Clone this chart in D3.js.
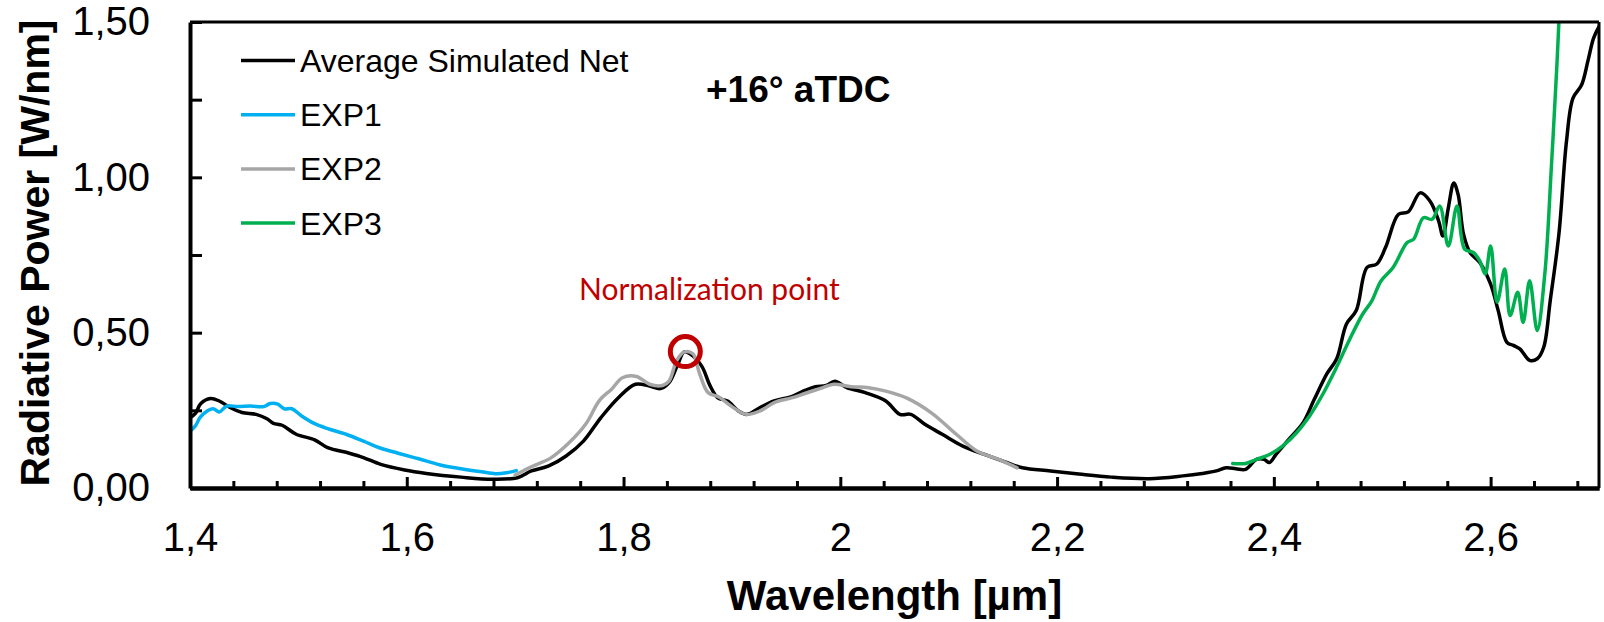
<!DOCTYPE html>
<html>
<head>
<meta charset="utf-8">
<script src="https://cdn.jsdelivr.net/npm/d3@7"></script>
<style>
  html, body { margin: 0; padding: 0; background: #fff; }
  text { font-family: "Liberation Sans", Arial, sans-serif; }
</style>
</head>
<body>
<svg id="chart" width="1604" height="622"></svg>
<script>
// ---------------- DATA ----------------
const simWavelength = [1.400,1.405,1.410,1.419,1.427,1.437,1.448,1.461,1.471,1.477,1.485,1.498,1.515,1.527,1.547,1.560,1.576,1.598,1.618,1.650,1.679,1.702,1.715,1.731,1.747,1.763,1.779,1.795,1.811,1.824,1.834,1.842,1.850,1.856,1.862,1.872,1.880,1.887,1.896,1.906,1.914,1.926,1.939,1.955,1.968,1.977,1.987,1.995,2.006,2.023,2.042,2.055,2.065,2.078,2.094,2.113,2.133,2.152,2.168,2.194,2.220,2.250,2.285,2.316,2.334,2.347,2.356,2.365,2.374,2.384,2.391,2.396,2.402,2.414,2.427,2.437,2.449,2.458,2.467,2.476,2.486,2.495,2.503,2.515,2.524,2.535,2.544,2.552,2.556,2.561,2.566,2.570,2.575,2.581,2.590,2.600,2.607,2.615,2.621,2.627,2.636,2.643,2.649,2.655,2.663,2.670,2.676,2.684,2.690,2.695,2.700];
const simPower = [0.226,0.240,0.272,0.288,0.280,0.259,0.243,0.237,0.223,0.208,0.202,0.173,0.155,0.130,0.112,0.098,0.076,0.058,0.047,0.035,0.028,0.033,0.055,0.071,0.103,0.151,0.226,0.290,0.334,0.328,0.320,0.339,0.398,0.438,0.430,0.393,0.328,0.290,0.280,0.248,0.237,0.259,0.280,0.294,0.315,0.326,0.330,0.344,0.323,0.307,0.280,0.237,0.237,0.205,0.173,0.135,0.108,0.084,0.065,0.055,0.045,0.035,0.030,0.039,0.047,0.055,0.065,0.062,0.060,0.092,0.092,0.082,0.108,0.157,0.210,0.283,0.368,0.416,0.528,0.571,0.710,0.721,0.774,0.881,0.889,0.950,0.924,0.860,0.811,0.902,0.982,0.945,0.817,0.758,0.726,0.656,0.571,0.469,0.459,0.448,0.411,0.416,0.453,0.603,0.817,1.116,1.255,1.298,1.378,1.448,1.485];

const exp1Wavelength = [1.400,1.405,1.410,1.421,1.427,1.434,1.444,1.456,1.468,1.474,1.481,1.487,1.494,1.503,1.515,1.527,1.544,1.560,1.576,1.592,1.611,1.631,1.650,1.669,1.682,1.692,1.701];
const exp1Power = [0.183,0.200,0.230,0.255,0.245,0.264,0.262,0.264,0.262,0.272,0.270,0.255,0.255,0.232,0.207,0.191,0.173,0.151,0.128,0.112,0.094,0.074,0.062,0.052,0.046,0.049,0.056];

const exp2Wavelength = [1.700,1.716,1.733,1.749,1.765,1.778,1.789,1.799,1.812,1.824,1.836,1.842,1.849,1.856,1.864,1.870,1.878,1.888,1.900,1.913,1.926,1.939,1.955,1.968,1.984,1.994,2.010,2.026,2.042,2.061,2.084,2.107,2.126,2.146,2.163];
const exp2Power = [0.042,0.070,0.097,0.143,0.205,0.283,0.318,0.355,0.359,0.334,0.330,0.344,0.410,0.438,0.432,0.370,0.307,0.293,0.262,0.237,0.248,0.275,0.290,0.305,0.323,0.334,0.326,0.323,0.312,0.290,0.242,0.173,0.119,0.092,0.065];

const exp3Wavelength = [2.362,2.374,2.384,2.396,2.408,2.421,2.433,2.445,2.458,2.470,2.482,2.490,2.499,2.510,2.523,2.529,2.538,2.546,2.553,2.561,2.569,2.576,2.584,2.590,2.595,2.600,2.606,2.613,2.618,2.625,2.630,2.636,2.643,2.650,2.656,2.661,2.663];
const exp3Power = [0.079,0.079,0.092,0.108,0.135,0.178,0.232,0.301,0.390,0.479,0.560,0.600,0.667,0.710,0.790,0.801,0.870,0.865,0.908,0.779,0.908,0.769,0.758,0.731,0.689,0.779,0.598,0.705,0.555,0.630,0.533,0.667,0.507,0.689,1.030,1.351,1.500];

const seriesNames = ["Average Simulated Net", "EXP1", "EXP2", "EXP3"];
const seriesColors = ["#000000", "#00B0F0", "#A6A6A6", "#00B050"];
const xTickLabels = [1.4, 1.6, 1.8, 2.0, 2.2, 2.4, 2.6];
const yTickLabels = [0, 0.5, 1.0, 1.5];
const normPoint = { wavelength: 1.857, power: 0.439, label: "Normalization point" };
const chartTitle = "+16° aTDC";
const xTitle = "Wavelength [µm]";
const yTitle = "Radiative Power [W/nm]";

// ---------------- LAYOUT ----------------
const W = 1604, H = 622;
const m = { left: 190, right: 5, top: 22, bottom: 134 };
const iw = W - m.left - m.right, ih = H - m.top - m.bottom;

const svg = d3.select("#chart");
const g = svg.append("g").attr("transform", `translate(${m.left},${m.top})`);

const x = d3.scaleLinear().domain([1.4, 2.7]).range([0, iw]);
const y = d3.scaleLinear().domain([0, 1.5]).range([ih, 0]);

const comma = v => String(+v.toFixed(2)).replace(".", ",");

svg.append("defs").append("clipPath").attr("id", "clip")
  .append("rect").attr("x", 0).attr("y", 0).attr("width", iw).attr("height", ih);

// Lines
const series = [
  { xs: simWavelength, ys: simPower },
  { xs: exp1Wavelength, ys: exp1Power },
  { xs: exp2Wavelength, ys: exp2Power },
  { xs: exp3Wavelength, ys: exp3Power }
];
const line = d3.line().x(d => x(d[0])).y(d => y(d[1])).curve(d3.curveCatmullRom.alpha(0.5));
const lineLayer = g.append("g").attr("clip-path", "url(#clip)");
series.forEach((s, i) => {
  lineLayer.append("path")
    .datum(s.xs.map((v, k) => [v, s.ys[k]]))
    .attr("fill", "none")
    .attr("stroke", seriesColors[i])
    .attr("stroke-width", 3.5)
    .attr("stroke-linejoin", "round")
    .attr("stroke-linecap", "round")
    .attr("d", line);
});

// Axes
const minorX = d3.range(0, 33).map(i => +(1.4 + i * 0.04).toFixed(2)).filter(v => v <= 2.7 && Math.abs((v - 1.4) / 0.2 - Math.round((v - 1.4) / 0.2)) > 1e-6);
const xMinor = d3.axisBottom(x).tickValues(minorX).tickSize(-7).tickSizeOuter(0).tickFormat("");
const xMajor = d3.axisBottom(x).tickValues(xTickLabels).tickSize(-11).tickSizeOuter(0).tickPadding(35).tickFormat(d => comma(d));
const yAxis = d3.axisLeft(y).tickValues([0, 0.25, 0.5, 0.75, 1.0, 1.25, 1.5]).tickSize(-12).tickSizeOuter(0).tickPadding(40)
  .tickFormat(d => yTickLabels.some(t => Math.abs(t - d) < 1e-9) ? d3.format(".2f")(d).replace(".", ",") : "");

function styleAxis(sel) {
  sel.select(".domain").attr("stroke", "#000").attr("stroke-width", 4);
  sel.selectAll(".tick line").attr("stroke", "#000").attr("stroke-width", 3);
  sel.selectAll(".tick text").attr("fill", "#000").style("font-size", "40px").style("font-family", '"Liberation Sans", Arial, sans-serif');
}
g.append("g").attr("transform", `translate(0,${ih})`).call(xMinor).call(styleAxis);
g.append("g").attr("transform", `translate(0,${ih})`).call(xMajor).call(styleAxis);
g.append("g").call(yAxis).call(styleAxis);

// Top & right frame
g.append("line").attr("x1", 0).attr("x2", iw).attr("y1", 0).attr("y2", 0).attr("stroke", "#000").attr("stroke-width", 3);
g.append("line").attr("x1", iw).attr("x2", iw).attr("y1", 0).attr("y2", ih).attr("stroke", "#000").attr("stroke-width", 3);

// Normalization marker
g.append("circle").attr("cx", x(normPoint.wavelength)).attr("cy", y(normPoint.power)).attr("r", 15)
  .attr("fill", "none").attr("stroke", "#C00000").attr("stroke-width", 5);
g.append("text").attr("x", x(normPoint.wavelength) + 24).attr("y", y(normPoint.power) - 52)
  .attr("text-anchor", "middle").attr("fill", "#C00000")
  .style("font-family", "Lato, 'Open Sans', sans-serif").style("font-size", "30px")
  .text(normPoint.label);

// Legend
const legend = svg.append("g");
seriesNames.forEach((name, i) => {
  const ly = 60.5 + i * 54.2;
  legend.append("line").attr("x1", 241).attr("x2", 295).attr("y1", ly).attr("y2", ly)
    .attr("stroke", seriesColors[i]).attr("stroke-width", 3.5);
  legend.append("text").attr("x", 300).attr("y", ly + 11.5)
    .style("font-size", "32px").attr("fill", "#000").text(name);
});

// Title inside plot
svg.append("text").attr("x", 706).attr("y", 102).style("font-size", "37px").style("font-weight", "bold")
  .attr("fill", "#000").text(chartTitle);

// Axis titles
svg.append("text").attr("x", m.left + iw / 2).attr("y", 610).attr("text-anchor", "middle")
  .style("font-size", "42px").style("font-weight", "bold").attr("fill", "#000").text(xTitle);
svg.append("text").attr("transform", "translate(49,253) rotate(-90)").attr("text-anchor", "middle")
  .style("font-size", "41px").style("font-weight", "bold").attr("fill", "#000").text(yTitle);
</script>
</body>
</html>
